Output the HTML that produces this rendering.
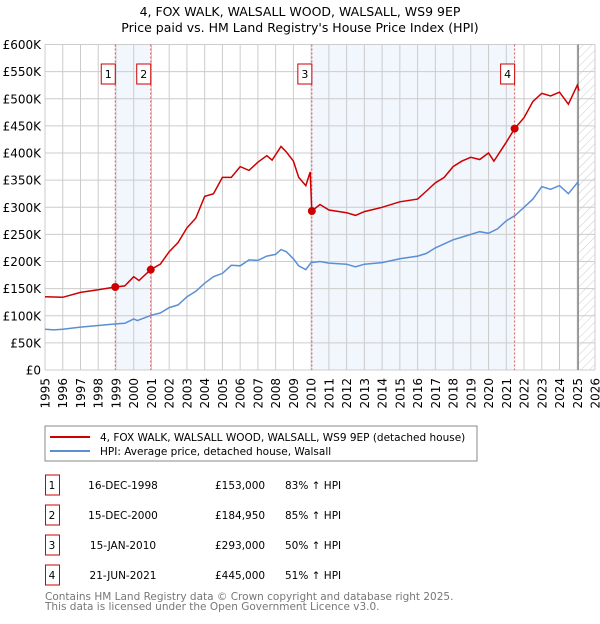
<!DOCTYPE html>
<html><head><meta charset="utf-8"><style>
body{margin:0;background:#fff;font-family:"DejaVu Sans","Liberation Sans",sans-serif;}
svg text{font-family:"DejaVu Sans","Liberation Sans",sans-serif;}
</style></head><body>
<svg id="c" width="600" height="620" xmlns="http://www.w3.org/2000/svg">
<defs><pattern id="hatch" width="6" height="6" patternUnits="userSpaceOnUse" patternTransform="rotate(45)"><line x1="0" y1="0" x2="0" y2="6" stroke="#ccc" stroke-width="1"/></pattern></defs>
<text x="300" y="16" text-anchor="middle" font-size="12.5">4, FOX WALK, WALSALL WOOD, WALSALL, WS9 9EP</text>
<text x="300" y="32" text-anchor="middle" font-size="12.5">Price paid vs. HM Land Registry's House Price Index (HPI)</text>
<g id="plot"></g>
<rect x="45" y="426" width="432" height="35" fill="#fff" stroke="#888"/>
<line x1="50" y1="437" x2="90" y2="437" stroke="#cc0000" stroke-width="2"/>
<text x="100" y="441" font-size="10.5">4, FOX WALK, WALSALL WOOD, WALSALL, WS9 9EP (detached house)</text>
<line x1="50" y1="451" x2="90" y2="451" stroke="#5b8fd4" stroke-width="2"/>
<text x="100" y="455" font-size="10.5">HPI: Average price, detached house, Walsall</text>
<g id="table"></g>
<text x="45" y="600" font-size="10.5" fill="#777">Contains HM Land Registry data © Crown copyright and database right 2025.</text>
<text x="45" y="610" font-size="10.5" fill="#777">This data is licensed under the Open Government Licence v3.0.</text>
</svg>
<script>
const hpiYears=[1995,1995.5,1996,1997,1998,1999,1999.5,2000,2000.2,2001,2001.5,2002,2002.5,2003,2003.5,2004,2004.5,2005,2005.5,2006,2006.5,2007,2007.5,2008,2008.3,2008.6,2009,2009.3,2009.7,2010,2010.5,2011,2012,2012.5,2013,2014,2015,2016,2016.5,2017,2018,2018.5,2019,2019.5,2020,2020.5,2021,2021.5,2022,2022.5,2023,2023.5,2024,2024.5,2025,2025.1];
const hpiValues=[75,74,75,79,82,85,86,94,91,101,105,115,120,135,145,160,172,178,193,192,203,202,210,213,222,218,205,192,185,198,200,197,195,190,195,198,205,210,215,225,240,245,250,255,252,260,275,285,300,315,338,333,340,325,345,340];
const redYears=[1995,1996,1997,1998,1998.96,1999.5,2000,2000.3,2000.96,2001.5,2002,2002.5,2003,2003.5,2004,2004.5,2005,2005.5,2006,2006.5,2007,2007.5,2007.8,2008.3,2008.6,2009,2009.3,2009.7,2009.95,2010.04,2010.5,2011,2012,2012.5,2013,2014,2015,2016,2016.5,2017,2017.5,2018,2018.5,2019,2019.5,2020,2020.3,2020.7,2021,2021.47,2022,2022.5,2023,2023.5,2024,2024.5,2025,2025.1];
const redValues=[135,134,143,148,153,155,172,165,185,195,218,235,262,280,320,325,355,355,375,368,383,395,387,412,402,385,355,340,365,293,305,295,290,285,292,300,310,315,330,345,355,375,385,392,388,400,385,405,420,445,465,495,510,505,512,490,525,515];
const saleYears=[1998.96,2000.96,2010.04,2021.47];
const salePrices=[153,184.95,293,445];
const saleLabels=["1","2","3","4"];
const saleDates=["16-DEC-1998","15-DEC-2000","15-JAN-2010","21-JUN-2021"];
const salePriceText=["£153,000","£184,950","£293,000","£445,000"];
const saleHpiText=["83% ↑ HPI","85% ↑ HPI","50% ↑ HPI","51% ↑ HPI"];
const yTicks=[0,50,100,150,200,250,300,350,400,450,500,550,600];
const yTickLabels=["£0","£50K","£100K","£150K","£200K","£250K","£300K","£350K","£400K","£450K","£500K","£550K","£600K"];
const xStart=1995,xEnd=2026,dataEnd=2025.05;
const X0=45,X1=595,Y0=370,Y1=44.5;
const sx=v=>X0+(v-xStart)/(xEnd-xStart)*(X1-X0);
const sy=v=>Y0-(v/600)*(Y0-Y1);
const NS="http://www.w3.org/2000/svg";
const plot=document.getElementById('plot');
function mk(tag,attrs,parent){const e=document.createElementNS(NS,tag);for(const k in attrs)e.setAttribute(k,attrs[k]);(parent||plot).appendChild(e);return e;}
// bands
for(const [a,b] of [[0,1],[2,3]]){const r=mk('rect',{x:sx(saleYears[a]),y:Y1,width:sx(saleYears[b])-sx(saleYears[a]),height:Y0-Y1,fill:'#eef3fc',opacity:0.75});

}
const h=mk('rect',{x:sx(dataEnd),y:Y1,width:X1-sx(dataEnd),height:Y0-Y1,fill:'url(#hatch)'});


// grid
for(let yr=xStart;yr<=xEnd;yr++){const l=mk('line',{x1:sx(yr),x2:sx(yr),y1:Y1,y2:Y0,stroke:'#ccc','stroke-width':1});


const t=mk('text',{x:0,y:0,'font-size':12,'text-anchor':'end',transform:`translate(${sx(yr)+4.5},${Y0+8}) rotate(-90)`});
t.textContent=yr;

}
yTicks.forEach((v,i)=>{const l=mk('line',{x1:X0,x2:X1,y1:sy(v),y2:sy(v),stroke:'#ccc','stroke-width':1});


const t=mk('text',{x:X0-4,y:sy(v)+4.5,'font-size':12,'text-anchor':'end'});
t.textContent=yTickLabels[i];

});
const el=mk('line',{x1:sx(dataEnd),x2:sx(dataEnd),y1:Y1,y2:Y0,stroke:'#888','stroke-width':1.5});


// sale vlines
saleYears.forEach((yr,i)=>{const l=mk('line',{x1:sx(yr),x2:sx(yr),y1:Y1,y2:Y0,stroke:'#e05555','stroke-width':1,'stroke-dasharray':'2,2'});


const r=mk('rect',{x:sx(yr)-14,y:64,width:14,height:20,fill:'#fff',stroke:'#cc0000'});


const t=mk('text',{x:sx(yr)-7,y:78,'font-size':11,'text-anchor':'middle'});
t.textContent=saleLabels[i];

});
function path(xs,vs,col,name){const d=xs.map((x,i)=>(i?'L':'M')+sx(x).toFixed(1)+','+sy(vs[i]).toFixed(1)).join('');
const p=mk('path',{d:d,fill:'none',stroke:col,'stroke-width':1.5});

}
path(hpiYears,hpiValues,'#5b8fd4','hpi-line');
path(redYears,redValues,'#cc0000','property-line');
saleYears.forEach((yr,i)=>{const c=mk('circle',{cx:sx(yr),cy:sy(salePrices[i]),r:4,fill:'#cc0000'});

});
// table
const tb=document.getElementById('table');
saleYears.forEach((yr,i)=>{const cy=485+i*30;
const r=mk('rect',{x:45.5,y:cy-10,width:14,height:20,fill:'#fff',stroke:'#cc0000'},tb);


const cells=[[52,saleLabels[i],'middle','table-row-number'],[123,saleDates[i],'middle','table-sale-date'],[215,salePriceText[i],'start','table-sale-price'],[285,saleHpiText[i],'start','table-hpi-change']];
cells.forEach(c=>{const t=mk('text',{x:c[0],y:cy+4,'font-size':10.5,'text-anchor':c[2]},tb);
t.textContent=c[1];

});});
</script>
</body></html>
